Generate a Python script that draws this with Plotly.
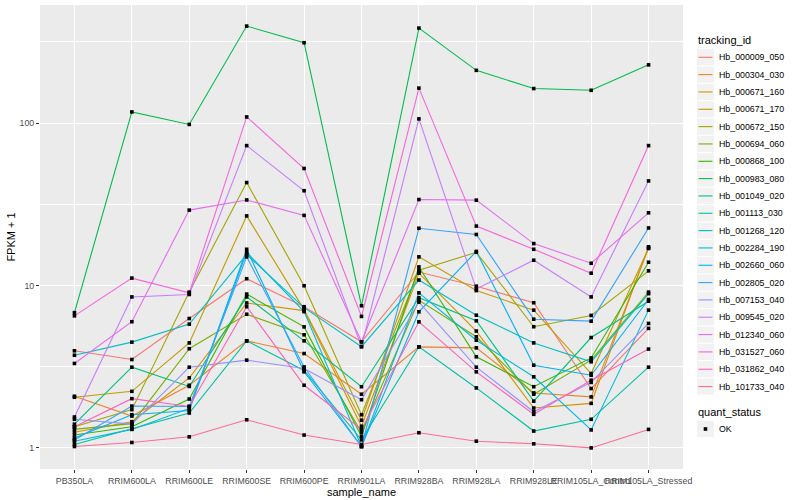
import math
import plotly.graph_objects as go

# ---------------- data ----------------
categories = ["PB350LA", "RRIM600LA", "RRIM600LE", "RRIM600SE", "RRIM600PE",
              "RRIM901LA", "RRIM928BA", "RRIM928LA", "RRIM928LE",
              "RRIM105LA_Control", "RRIM105LA_Stressed"]

tracking_ids = ["Hb_000009_050", "Hb_000304_030", "Hb_000671_160", "Hb_000671_170",
                "Hb_000672_150", "Hb_000694_060", "Hb_000868_100", "Hb_000983_080",
                "Hb_001049_020", "Hb_001113_030", "Hb_001268_120", "Hb_002284_190",
                "Hb_002660_060", "Hb_002805_020", "Hb_007153_040", "Hb_009545_020",
                "Hb_012340_060", "Hb_031527_060", "Hb_031862_040", "Hb_101733_040"]

# FPKM + 1 values, one list per gene, in the order of `categories`
hb_000009_050 = [3.96, 3.5, 6.26, 11.0, 7.4, 4.5, 12.1, 9.9, 7.83, 2.32, 5.44]
hb_000304_030 = [2.08, 1.57, 2.43, 4.56, 3.81, 2.14, 4.19, 4.13, 2.18, 2.06, 17.0]
hb_000671_160 = [1.25, 1.45, 2.7, 7.8, 7.0, 1.36, 11.9, 5.24, 1.76, 1.88, 17.3]
hb_000671_170 = [2.05, 2.23, 4.43, 26.8, 7.1, 1.48, 15.0, 9.3, 7.05, 2.87, 16.9]
hb_000672_150 = [1.35, 1.72, 9.1, 43.0, 9.96, 1.6, 12.4, 16.0, 5.57, 6.54, 12.3]
hb_000694_060 = [1.3, 1.41, 4.08, 6.65, 4.97, 1.25, 8.1, 4.83, 2.14, 3.47, 9.1]
hb_000868_100 = [1.2, 1.35, 2.0, 8.85, 5.56, 1.18, 13.0, 3.64, 2.38, 3.58, 13.9]
hb_000983_080 = [6.8, 117, 98, 395, 312, 7.5, 384, 211, 163, 159, 228]
hb_001049_020 = [1.4, 3.14, 2.39, 8.5, 4.56, 2.38, 8.4, 6.06, 1.94, 4.78, 8.0]
hb_001113_030 = [1.05, 1.31, 1.64, 4.56, 3.0, 1.12, 4.19, 2.34, 1.27, 1.5, 3.14]
hb_001268_120 = [3.72, 4.48, 5.78, 15.5, 7.3, 4.2, 10.8, 6.56, 4.43, 3.39, 8.9]
hb_002284_190 = [1.1, 1.3, 1.75, 16.0, 6.9, 1.02, 9.0, 4.6, 2.74, 1.29, 7.05]
hb_002660_060 = [1.15, 1.6, 1.7, 16.7, 2.94, 1.02, 6.88, 16.2, 3.23, 2.8, 8.2]
hb_002805_020 = [1.12, 1.81, 1.8, 15.0, 3.15, 1.02, 22.5, 20.6, 6.2, 6.03, 22.6]
hb_007153_040 = [1.5, 1.4, 3.14, 3.47, 3.08, 1.98, 7.9, 3.14, 1.67, 2.53, 5.84]
hb_009545_020 = [1.55, 8.5, 8.8, 72.6, 38.3, 4.2, 106, 9.5, 14.3, 8.5, 44.0]
hb_012340_060 = [3.31, 5.98, 29.1, 33.6, 27.0, 4.5, 33.8, 33.5, 18.1, 13.7, 28.0]
hb_031527_060 = [6.5, 11.1, 9.0, 109, 52.5, 6.45, 164, 23.2, 16.7, 11.9, 72.6]
hb_031862_040 = [1.35, 2.01, 1.8, 7.4, 2.43, 1.3, 5.97, 2.94, 1.61, 2.61, 4.06]
hb_101733_040 = [1.02, 1.08, 1.17, 1.49, 1.2, 1.05, 1.24, 1.10, 1.06, 1.0, 1.30]

series = [hb_000009_050, hb_000304_030, hb_000671_160, hb_000671_170, hb_000672_150,
          hb_000694_060, hb_000868_100, hb_000983_080, hb_001049_020, hb_001113_030,
          hb_001268_120, hb_002284_190, hb_002660_060, hb_002805_020, hb_007153_040,
          hb_009545_020, hb_012340_060, hb_031527_060, hb_031862_040, hb_101733_040]

quant_status = ["OK"]

y_ticks = [1, 10, 100]
y_tick_labels = ["1", "10", "100"]

# ---------------- styling ----------------
colors = ["#F8766D", "#EA8331", "#D89000", "#C09B00", "#A3A500", "#7CAE00", "#39B600",
          "#00BB4E", "#00BF7D", "#00C1A3", "#00BFC4", "#00BAE0", "#00B0F6", "#35A2FF",
          "#9590FF", "#C77CFF", "#E76BF3", "#FA62DB", "#FF62BC", "#FF6C91"]
FONT = "Liberation Sans, Arial, Helvetica, sans-serif"
PANEL_L, PANEL_R, PANEL_T, PANEL_B = 40, 683, 5, 469
W, H = 800, 500

fig = go.Figure()

for name, vals, col in zip(tracking_ids, series, colors):
    fig.add_trace(go.Scatter(x=categories, y=vals, mode="lines", name=name,
                             line=dict(color=col, width=1.1), showlegend=False))

# points on top (quant_status = OK)
px_all, py_all = [], []
for vals in series:
    px_all += categories
    py_all += vals
fig.add_trace(go.Scatter(x=px_all, y=py_all, mode="markers", name=quant_status[0],
                         marker=dict(symbol="square", size=3.6, color="black"),
                         showlegend=False))

# y range as ggplot (5% expansion in log space)
all_vals = [v for s in series for v in s]
lo, hi = math.log10(min(all_vals)), math.log10(max(all_vals))
span = hi - lo
y_range = [lo - 0.05 * span, hi + 0.05 * span]
n = len(categories)

fig.update_layout(
    width=W, height=H,
    margin=dict(l=PANEL_L, r=W - PANEL_R, t=PANEL_T, b=H - PANEL_B, autoexpand=False),
    paper_bgcolor="white", plot_bgcolor="#EBEBEB",
    font=dict(family=FONT, color="black"),
    showlegend=False,
)
fig.update_xaxes(
    type="category", categoryorder="array", categoryarray=categories,
    range=[-0.6, n - 1 + 0.6], automargin=False, tickangle=0,
    showgrid=True, gridcolor="white", gridwidth=1.1, zeroline=False,
    ticks="outside", ticklen=3, tickwidth=1, tickcolor="#333333",
    tickfont=dict(size=8.8, color="#4D4D4D", family=FONT),
    title=dict(text="sample_name", font=dict(size=11, color="black", family=FONT), standoff=1),
    showline=False,
)
fig.update_yaxes(
    type="log", range=y_range, automargin=False,
    tickvals=y_ticks, ticktext=y_tick_labels,
    showgrid=True, gridcolor="white", gridwidth=1.1, zeroline=False,
    ticks="outside", ticklen=3, tickwidth=1, tickcolor="#333333",
    tickfont=dict(size=8.8, color="#4D4D4D", family=FONT),
    minor=dict(tickvals=[10 ** 0.5, 10 ** 1.5, 10 ** 2.5], showgrid=True,
               gridcolor="white", gridwidth=0.55, ticks=""),
    title=dict(text="FPKM + 1", font=dict(size=11, color="black", family=FONT), standoff=1),
    showline=False,
)

# ---------------- ggplot-style legends (drawn in paper coords) ----------------
def fx(px):
    return (px - PANEL_L) / (PANEL_R - PANEL_L)

def fy(py):
    return (PANEL_B - py) / (PANEL_B - PANEL_T)

shapes, annotations = [], []
KEY_X0, KEY_X1, TEXT_X = 697.0, 714.0, 716.5
first_y, step = 57.3, 17.33

annotations.append(dict(text="tracking_id", x=fx(695.5), y=fy(40.5), xref="paper", yref="paper",
                        xanchor="left", yanchor="middle", showarrow=False,
                        font=dict(size=11, color="black", family=FONT)))
for i, (name, col) in enumerate(zip(tracking_ids, colors)):
    cy = first_y + step * i
    shapes.append(dict(type="rect", xref="paper", yref="paper",
                       x0=fx(KEY_X0), x1=fx(KEY_X1), y0=fy(cy - 8.1), y1=fy(cy + 8.1),
                       fillcolor="#F2F2F2", line=dict(width=0), layer="below"))
    shapes.append(dict(type="line", xref="paper", yref="paper",
                       x0=fx(KEY_X0 + 1.5), x1=fx(KEY_X1 - 1.5), y0=fy(cy), y1=fy(cy),
                       line=dict(color=col, width=1.1)))
    annotations.append(dict(text=name, x=fx(TEXT_X), y=fy(cy), xref="paper", yref="paper",
                            xanchor="left", yanchor="middle", showarrow=False,
                            font=dict(size=8.8, color="black", family=FONT)))

annotations.append(dict(text="quant_status", x=fx(695.5), y=fy(412.3), xref="paper", yref="paper",
                        xanchor="left", yanchor="middle", showarrow=False,
                        font=dict(size=11, color="black", family=FONT)))
ok_y = 429.0
shapes.append(dict(type="rect", xref="paper", yref="paper",
                   x0=fx(KEY_X0), x1=fx(KEY_X1), y0=fy(ok_y - 8.1), y1=fy(ok_y + 8.1),
                   fillcolor="#F2F2F2", line=dict(width=0), layer="below"))
shapes.append(dict(type="rect", xref="paper", yref="paper",
                   x0=fx(703.7), x1=fx(707.3), y0=fy(ok_y - 1.8), y1=fy(ok_y + 1.8),
                   fillcolor="black", line=dict(width=0)))
annotations.append(dict(text=quant_status[0], x=fx(TEXT_X), y=fy(ok_y), xref="paper", yref="paper",
                        xanchor="left", yanchor="middle", showarrow=False,
                        font=dict(size=8.8, color="black", family=FONT)))

fig.update_layout(shapes=shapes, annotations=annotations)

# remove the browser's default 8px page margin so the figure sits at (0, 0)
fig.write_html("out.html",
               config={"displayModeBar": False},
               post_script="document.body.style.margin='0';document.body.style.overflow='hidden';")
